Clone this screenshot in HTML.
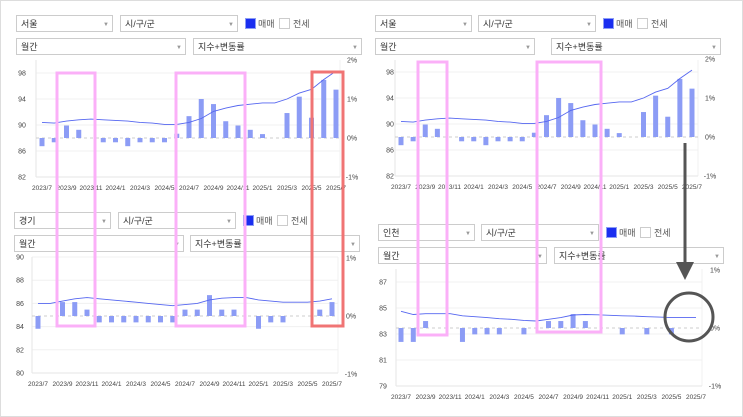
<!DOCTYPE html>
<html><head><meta charset="utf-8">
<style>
body{margin:0;background:#fff;}
svg{display:block;font-family:"Liberation Sans","Noto Sans CJK KR",sans-serif;}
</style></head>
<body>
<svg id="chart" width="743" height="417" viewBox="0 0 743 417"></svg>
<script>
const months=["2023/7","2023/8","2023/9","2023/10","2023/11","2023/12","2024/1","2024/2","2024/3","2024/4","2024/5","2024/6","2024/7","2024/8","2024/9","2024/10","2024/11","2024/12","2025/1","2025/2","2025/3","2025/4","2025/5","2025/6","2025/7"];
const xTickLabels=["2023/7","2023/9","2023/11","2024/1","2024/3","2024/5","2024/7","2024/9","2024/11","2025/1","2025/3","2025/5","2025/7"];
const seoulIndex=[90.4,90.3,90.6,90.8,90.9,90.8,90.7,90.6,90.4,90.3,90.1,90.1,90.4,91.0,92.1,92.6,93.0,93.2,93.4,93.4,94.0,94.9,95.5,97.0,98.3];
const seoulChange=[-0.21,-0.11,0.32,0.21,0,-0.11,-0.11,-0.21,-0.11,-0.11,-0.11,0.11,0.56,1.0,0.87,0.43,0.32,0.21,0.1,0,0.64,1.06,0.52,1.49,1.24];
const gyeonggiIndex=[86.0,86.0,86.2,86.4,86.5,86.4,86.3,86.2,86.1,86.0,85.9,85.8,85.9,86.0,86.3,86.45,86.5,86.5,86.3,86.2,86.1,86.1,86.1,86.2,86.4];
const gyeonggiChange=[-0.22,0,0.24,0.24,0.11,-0.11,-0.11,-0.11,-0.11,-0.11,-0.11,-0.11,0.11,0.11,0.36,0.11,0.11,0,-0.22,-0.11,-0.11,0,0,0.11,0.24];
const incheonIndex=[84.75,84.5,84.56,84.56,84.56,84.4,84.33,84.26,84.18,84.13,84.05,84.0,84.13,84.26,84.46,84.5,84.48,84.44,84.4,84.38,84.33,84.3,84.26,84.26,84.26];
const incheonChange=[-0.24,-0.24,0.12,0,0,-0.24,-0.11,-0.11,-0.11,0,-0.11,0,0.12,0.12,0.24,0.12,0,0,-0.11,0,-0.11,0,-0.11,0,0];
const seoulLeftTicks=[98,94,90,86,82];
const gyeonggiLeftTicks=[90,88,86,84,82,80];
const incheonLeftTicks=[87,85,83,81,79];
const pct2Ticks=[2,1,0,-1];
const pct1Ticks=[1,0,-1];

const svg=document.getElementById('chart');
const NS='http://www.w3.org/2000/svg';
function mk(tag,attrs,parent){const e=document.createElementNS(NS,tag);for(const k in attrs)e.setAttribute(k,attrs[k]);(parent||svg).appendChild(e);return e;}

// frame
let fr=mk('rect',{x:0.5,y:0.5,width:742,height:416,fill:'none',stroke:'#ddd'});



function control(g,x,y,w,label,arrow,name){
  const r=mk('g',{},g);
  
  
  mk('rect',{x:x+0.5,y:y+0.5,width:w,height:16,fill:'#fff',stroke:'#ccc'},r);
  const t=mk('text',{x:x+5,y:y+12,'font-size':9,fill:'#333'},r);t.textContent=label;
  const a=mk('text',{x:x+w-9,y:y+11,'font-size':6,fill:'#999'},r);a.textContent='▼';
}
function legend(g,x,y){
  const a=mk('g',{},g);
  
  
  mk('rect',{x:x+0.5,y:y+0.5,width:10,height:10,fill:'#1a2ef0',stroke:'#8c9cf5'},a);
  const t=mk('text',{x:x+13,y:y+9,'font-size':9,fill:'#555'},a);t.textContent='매매';
  const b=mk('g',{},g);
  
  
  mk('rect',{x:x+34.5,y:y+0.5,width:10,height:10,fill:'#fff',stroke:'#ccc'},b);
  const t2=mk('text',{x:x+48,y:y+9,'font-size':9,fill:'#555'},b);t2.textContent='전세';
}

function panel(cfg,idx,chg,leftTicks,rightTicks){
  const g=mk('g',{});
  
  
  control(g,cfg.cx,cfg.cy,96,cfg.region,true,'region-select');
  control(g,cfg.cx+cfg.d1,cfg.cy,117,'시/구/군',true,'district-select');
  legend(g,cfg.cx+cfg.d2,cfg.cy+3);
  control(g,cfg.cx,cfg.cy+23,cfg.w3,'월간',true,'period-select');
  control(g,cfg.cx+cfg.d4,cfg.cy+23,cfg.w4,'지수+변동률',true,'type-select');
  const n=months.length;
  const xs=i=>cfg.x0+(cfg.x1-cfg.x0)*i/(n-1);
  const yl=v=>cfg.yTop+(cfg.lMax-v)*(cfg.yBot-cfg.yTop)/(cfg.lMax-cfg.lMin);
  const yp=p=>cfg.zeroY-p*cfg.ppp;
  // grid
  leftTicks.forEach(v=>{
    const l=mk('line',{x1:cfg.pL,x2:cfg.pR,y1:yl(v),y2:yl(v),stroke:'#f0f0f0'},g);
    
    
    const t=mk('text',{x:cfg.llx,y:yl(v)+2.5,'font-size':7,fill:'#444','text-anchor':'middle'},g);
    
    
    t.textContent=v;
  });
  rightTicks.forEach(v=>{
    const t=mk('text',{x:cfg.rlx,y:yp(v)+2.5,'font-size':7,fill:'#444','text-anchor':'middle'},g);
    
    
    t.textContent=v+'%';
  });
  mk('line',{x1:cfg.pL,x2:cfg.pL,y1:cfg.pT,y2:cfg.yBot,stroke:'#e6e6e6'},g);
  mk('line',{x1:cfg.pR,x2:cfg.pR,y1:cfg.pT,y2:cfg.yBot,stroke:'#f0f0f0'},g);
  mk('line',{x1:cfg.pL,x2:cfg.pR,y1:cfg.yBot,y2:cfg.yBot,stroke:'#e6e6e6'},g);
  const z=mk('line',{x1:cfg.pL,x2:cfg.pR,y1:yp(0),y2:yp(0),stroke:'#ccc','stroke-dasharray':'3,3'},g);
  
  
  chg.forEach((v,i)=>{
    if(v===0)return;
    const y0=yp(0),y1=yp(v);
    const b=mk('rect',{x:xs(i)-2.5,y:Math.min(y0,y1),width:5,height:Math.abs(y1-y0),fill:'#8c9cf5'},g);
    
    
  });
  const pts=idx.map((v,i)=>xs(i).toFixed(1)+','+yl(v).toFixed(1)).join(' ');
  const pl=mk('polyline',{points:pts,fill:'none',stroke:'#5566f0','stroke-width':0.9},g);
  
  
  xTickLabels.forEach(lb=>{
    const i=months.indexOf(lb);
    const t=mk('text',{x:xs(i),y:cfg.labY,'font-size':6.5,fill:'#444','text-anchor':'middle'},g);
    
    
    t.textContent=lb;
  });
}

panel({name:'seoul-panel-left',region:'서울',cx:16,cy:15,d1:104,d2:229,w3:169,d4:177,w4:168,
  x0:42,x1:336,pL:36,pR:340,pT:60,yTop:73,yBot:177,lMax:98,lMin:82,zeroY:138,ppp:39,labY:190,llx:22,rlx:352},
  seoulIndex,seoulChange,seoulLeftTicks,pct2Ticks);
panel({name:'gyeonggi-panel',region:'경기',cx:14,cy:212,d1:104,d2:229,w3:169,d4:176,w4:169,
  x0:38,x1:332,pL:32,pR:338,pT:257,yTop:257,yBot:373,lMax:90,lMin:80,zeroY:316,ppp:58,labY:386,llx:20,rlx:351},
  gyeonggiIndex,gyeonggiChange,gyeonggiLeftTicks,pct1Ticks);
panel({name:'seoul-panel-right',region:'서울',cx:375,cy:15,d1:103,d2:228,w3:159,d4:176,w4:169,
  x0:401,x1:692,pL:395,pR:698,pT:60,yTop:72,yBot:176,lMax:98,lMin:82,zeroY:137,ppp:39,labY:189,llx:390,rlx:710},
  seoulIndex,seoulChange,seoulLeftTicks,pct2Ticks);
panel({name:'incheon-panel',region:'인천',cx:378,cy:224,d1:103,d2:228,w3:168,d4:176,w4:169,
  x0:401,x1:696,pL:396,pR:702,pT:269,yTop:282,yBot:386,lMax:87,lMin:79,zeroY:328,ppp:58,labY:399,llx:383,rlx:715},
  incheonIndex,incheonChange,incheonLeftTicks,pct1Ticks);

// annotations
const ann=mk('g',{});


const boxes=[[57,73,38,253,'#fbb0f8'],[176,73,69,253,'#fbb0f8'],[312,72,31,254,'#f07474'],[418,62,29,273,'#fbb0f8'],[537,62,64,270,'#fbb0f8']];
boxes.forEach(b=>{
  const r=mk('rect',{x:b[0],y:b[1],width:b[2],height:b[3],fill:'none',stroke:b[4],'stroke-width':3},ann);
  
  
});
const ar=mk('line',{x1:685,y1:143,x2:685,y2:264,stroke:'#555','stroke-width':3},ann);


const ah=mk('polygon',{points:'676,262 694,262 685,280',fill:'#555'},ann);


const c=mk('circle',{cx:689,cy:317,r:24,fill:'none',stroke:'#555','stroke-width':3},ann);


</script>
</body></html>
